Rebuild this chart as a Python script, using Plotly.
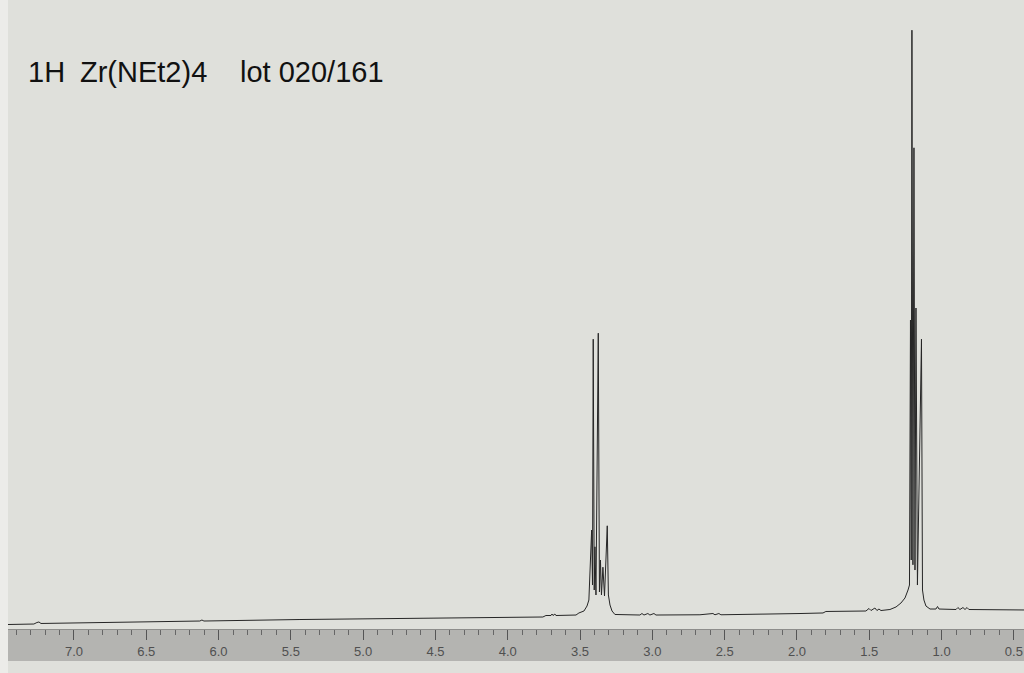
import plotly.graph_objects as go

# Spectrum trace: chemical shift (ppm) and relative intensity
ppm = [7.456, 7.277, 7.256, 7.242, 7.228, 6.682, 6.129, 6.115, 6.101, 5.437, 4.746, 4.054,
       3.757, 3.736, 3.701, 3.694, 3.687, 3.674, 3.667, 3.528, 3.508, 3.473, 3.452, 3.439,
       3.420, 3.414, 3.409, 3.402, 3.397, 3.390, 3.374, 3.366, 3.359, 3.352, 3.342, 3.331,
       3.312, 3.304, 3.293, 3.279, 3.259,
       3.086, 3.072, 3.058, 3.031, 3.017, 2.989, 2.975,
       2.671, 2.581, 2.567, 2.540, 2.526,
       1.979, 1.820, 1.800, 1.523, 1.502, 1.488, 1.461, 1.447, 1.433, 1.419,
       1.357, 1.315, 1.281, 1.253, 1.232, 1.222,
       1.215, 1.210, 1.205, 1.198, 1.191, 1.184, 1.177, 1.167, 1.139, 1.132,
       1.122, 1.108, 1.080, 1.039, 1.028, 1.018,
       0.900, 0.887, 0.873, 0.852, 0.838, 0.824, 0.811, 0.430]
intensity = [0.75, 0.83, 1.08, 1.17, 0.92, 1.08, 1.33, 1.50, 1.33, 1.58, 1.75, 2.00,
             2.00, 2.25, 2.25, 2.50, 2.25, 2.50, 2.25, 2.33, 2.67, 3.00, 3.83, 4.83,
             16.5, 7.33, 48.3, 6.50, 13.7, 5.67, 49.3, 6.17, 11.5, 5.67, 10.3, 5.50,
             17.2, 5.67, 4.00, 3.00, 2.42,
             2.33, 2.58, 2.33, 2.58, 2.33, 2.58, 2.33,
             2.37, 2.58, 2.37, 2.58, 2.37,
             2.58, 2.67, 2.92, 3.00, 3.42, 3.08, 3.50, 3.08, 3.33, 3.08,
             3.25, 3.67, 4.33, 5.17, 6.50, 7.33,
             51.5, 11.5, 99.8, 10.7, 80.2, 9.83, 53.5, 7.33, 48.3, 6.50,
             4.83, 3.83, 3.33, 3.33, 3.75, 3.33,
             3.25, 3.58, 3.25, 3.58, 3.25, 3.58, 3.25, 3.17]

title_parts = ["1H", "Zr(NEt2)4", "lot 020/161"]
x_range = [7.456, 0.430]
major_step = 0.5
minor_step = 0.1

W, H = 1024, 673
ml, mr, mt, mb = 8, 0, 20, 44
plot_w = W - ml - mr
plot_h = H - mt - mb

def px_x(p):
    return (p - ml) / plot_w

def px_y(p):
    return (H - mb - p) / plot_h

fig = go.Figure()
fig.add_trace(go.Scatter(x=ppm, y=intensity, mode="lines",
                         line=dict(color="#262626", width=1), hoverinfo="skip",
                         showlegend=False))

shapes = [
    # gray ruler band under the spectrum
    dict(type="rect", xref="paper", yref="paper", x0=0, x1=1,
         y0=px_y(661), y1=0, fillcolor="#b4b4b1", line=dict(width=0), layer="below"),
    # light paper margin at the left
    dict(type="rect", xref="paper", yref="paper", x0=px_x(0), x1=0,
         y0=px_y(673), y1=px_y(0), fillcolor="#ecece9", line=dict(width=0), layer="below"),
]

title_x = [26, 78, 238]
annotations = [dict(text=t, xref="paper", yref="paper", x=px_x(xp), y=px_y(72),
                    xanchor="left", yanchor="middle", showarrow=False,
                    font=dict(family="Liberation Sans, Arial, sans-serif", size=29,
                              color="#111111"))
               for t, xp in zip(title_parts, title_x)]

fig.update_layout(
    width=W, height=H,
    margin=dict(l=ml, r=mr, t=mt, b=mb, pad=0),
    paper_bgcolor="#dfe0db", plot_bgcolor="#dfe0db",
    shapes=shapes, annotations=annotations,
    xaxis=dict(range=x_range, showgrid=False, zeroline=False,
               showline=True, linecolor="#8e8e8c", linewidth=1,
               ticks="outside", ticklen=10, tickwidth=1, tickcolor="#555555",
               dtick=major_step, tick0=0, tickformat=".1f",
               minor=dict(dtick=minor_step, tick0=0, ticks="outside", ticklen=5,
                          tickcolor="#666666", tickwidth=1),
               tickfont=dict(family="Liberation Sans, Arial, sans-serif", size=13,
                             color="#505050")),
    yaxis=dict(range=[0, plot_h / 6.0], visible=False, fixedrange=True),
)

fig.write_html("out.html", config={"displayModeBar": False},
               post_script="document.body.style.margin='0';document.body.style.background='#dfe0db';")
